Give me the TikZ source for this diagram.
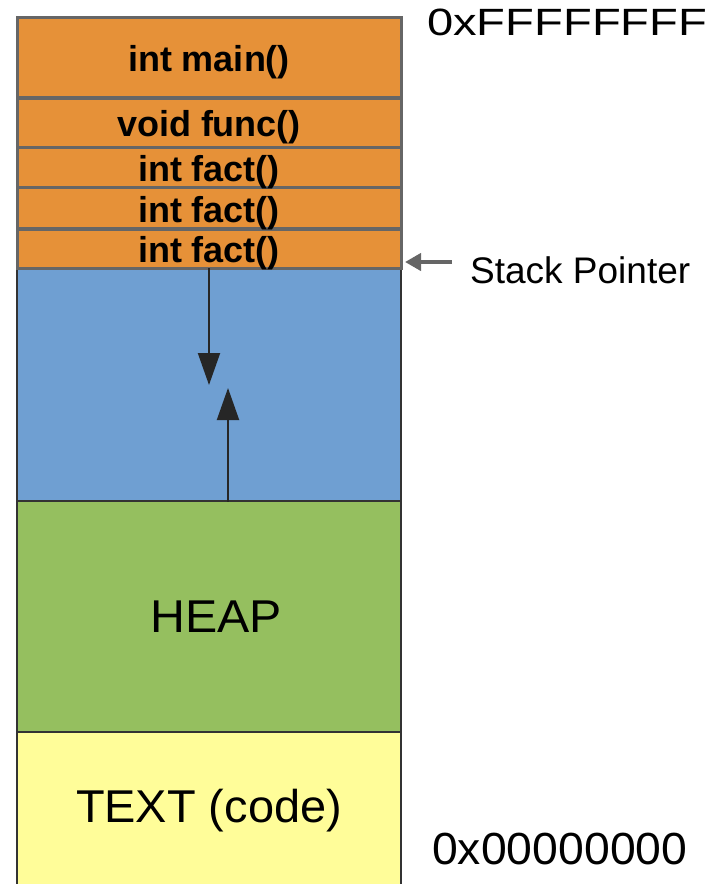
\documentclass[tikz,border=0pt]{standalone}
\usepackage{fontspec}
\setmainfont{Liberation Sans}
\usetikzlibrary{arrows.meta}

\definecolor{frameorange}{HTML}{E69138}
\definecolor{gapblue}{HTML}{6F9FD2}
\definecolor{heapgreen}{HTML}{95BF5F}
\definecolor{codeyellow}{HTML}{FFFD99}
\definecolor{framegray}{HTML}{666666}
\definecolor{edgedark}{HTML}{333333}

% frame labels sit a little below the geometric centre of their boxes
\newcommand{\framelabel}[1]{\raisebox{-5pt}[\height][\depth]{#1}}

\begin{document}
\begin{tikzpicture}[x=1pt,y=-1pt,
  region/.style={draw=edgedark, line width=1.6pt, minimum width=384pt,
    inner sep=0pt, font=\fontsize{46}{50}\selectfont},
  stackframe/.style={draw=framegray, fill=frameorange, line width=3pt,
    minimum width=384pt, inner sep=0pt, font=\fontsize{36}{40}\selectfont\bfseries},
  growth/.style={line width=2pt, draw=black!85,
    -{Triangle[length=32pt,width=22pt]}},
  pointer/.style={line width=4pt, draw=framegray,
    -{Triangle[length=16pt,width=17pt]}},
  address/.style={anchor=west, inner sep=0pt},
]
\useasboundingbox (0,0) rectangle (726,884);

% free region between stack and heap, heap, and code segment
\node[region, fill=gapblue, minimum height=232pt] (gap) at (209,385) {};
\node[region, fill=heapgreen, minimum height=231pt] (heap) at (209,616.5)
  {\hspace*{14pt}\scalebox{1.05}[1]{HEAP}};
\node[region, fill=codeyellow, minimum height=158pt] (code) at (209,811)
  {\scalebox{1.02}[1]{TEXT (code)}};

% stack frames, drawn bottom-up so each label sits above the border below it
\node[stackframe, minimum height=39pt] (fact3) at (209,248.5) {\framelabel{int fact()}};
\node[stackframe, minimum height=41pt] (fact2) at (209,208) {\framelabel{int fact()}};
\node[stackframe, minimum height=40pt] (fact1) at (209,167.5) {\framelabel{int fact()}};
\node[stackframe, minimum height=49pt] (func) at (209,122.5) {\framelabel{void func()}};
\node[stackframe, minimum height=80pt] (main) at (209,57) {\framelabel{int main()}};

% growth directions of stack and heap
\coordinate (stacktip) at (209,385);
\coordinate (heaptip) at (228,388);
\draw[growth] (gap.north -| stacktip) -- (stacktip);
\draw[growth] (gap.south -| heaptip) -- (heaptip);

% stack pointer marker
\node[address, font=\fontsize{37}{40}\selectfont] (splabel) at (470,270) {Stack Pointer};
\coordinate (sptail) at (452,262);
\coordinate (sptip) at (405,262);
\draw[pointer] (sptail) -- (sptip);

% address bounds
\node[address, font=\fontsize{38}{40}\selectfont] (hiaddr) at (427,22)
  {\scalebox{1.24}[1]{0xFFFFFFFF}};
\node[address, font=\fontsize{45}{48}\selectfont] (loaddr) at (432,849)
  {\scalebox{1.03}[1]{0x00000000}};
\end{tikzpicture}
\end{document}
